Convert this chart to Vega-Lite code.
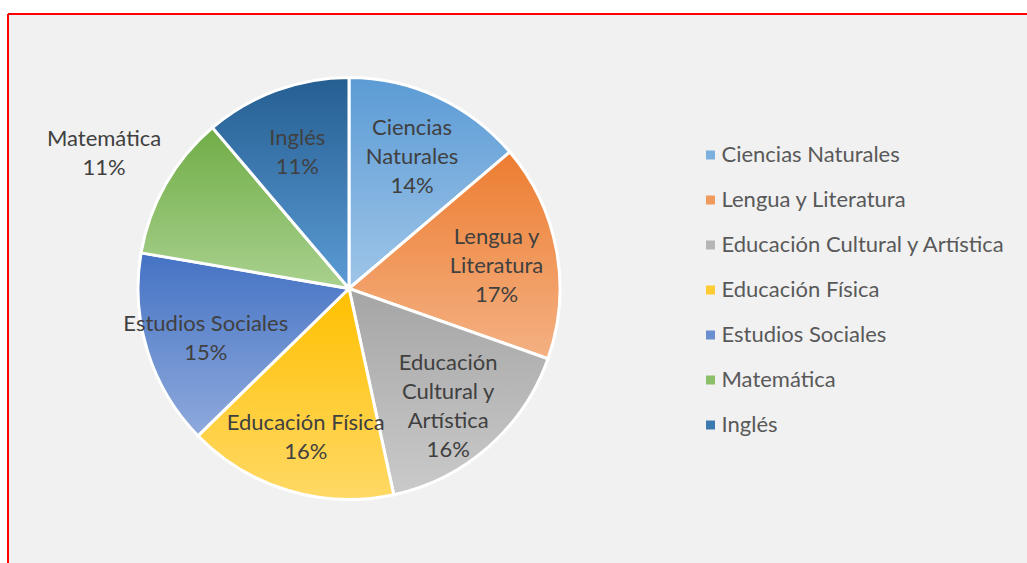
{
  "$schema": "https://vega.github.io/schema/vega-lite/v6.json",
  "background": "white",
  "padding": {"left": 7, "top": 13, "right": 0, "bottom": 0},
  "spacing": 0,
  "bounds": "flush",
  "config": {
    "font": "Lato",
    "concat": {"spacing": 0}
  },
  "datasets": {
    "materias": [
      {"orden": 1, "materia": "Ciencias Naturales", "valor": 0.138, "etiqueta": "Ciencias\nNaturales\n14%"},
      {"orden": 2, "materia": "Lengua y Literatura", "valor": 0.166, "etiqueta": "Lengua y\nLiteratura\n17%"},
      {"orden": 3, "materia": "Educación Cultural y Artística", "valor": 0.162, "etiqueta": "Educación\nCultural y\nArtística\n16%"},
      {"orden": 4, "materia": "Educación Física", "valor": 0.161, "etiqueta": "Educación Física\n16%"},
      {"orden": 5, "materia": "Estudios Sociales", "valor": 0.150, "etiqueta": "Estudios Sociales\n15%"},
      {"orden": 6, "materia": "Matemática", "valor": 0.111, "etiqueta": "Matemática\n11%"},
      {"orden": 7, "materia": "Inglés", "valor": 0.112, "etiqueta": "Inglés\n11%"}
    ]
  },
  "hconcat": [
    {
      "width": 682,
      "height": 549,
      "data": {"name": "materias"},
      "view": {"fill": "#f1f1f1", "stroke": "#ff0000", "strokeWidth": 2, "strokeDash": [682, 1231, 549, 0]},
      "encoding": {
        "theta": {"field": "valor", "type": "quantitative", "stack": true},
        "order": {"field": "orden", "type": "quantitative"}
      },
      "layer": [
        {
          "mark": {"type": "arc", "outerRadius": 211, "stroke": "white", "strokeWidth": 3},
          "encoding": {
            "color": {
              "condition": [
                {"test": "datum.materia === 'Ciencias Naturales'", "value": {"gradient": "linear", "x1": 0, "y1": 0, "x2": 0, "y2": 1, "stops": [{"offset": 0, "color": "#5B9BD5"}, {"offset": 1, "color": "#9FC5E8"}]}},
                {"test": "datum.materia === 'Lengua y Literatura'", "value": {"gradient": "linear", "x1": 0, "y1": 0, "x2": 0, "y2": 1, "stops": [{"offset": 0, "color": "#ED7D31"}, {"offset": 1, "color": "#F4B183"}]}},
                {"test": "datum.materia === 'Educación Cultural y Artística'", "value": {"gradient": "linear", "x1": 0, "y1": 0, "x2": 0, "y2": 1, "stops": [{"offset": 0, "color": "#A5A5A5"}, {"offset": 1, "color": "#CACACA"}]}},
                {"test": "datum.materia === 'Educación Física'", "value": {"gradient": "linear", "x1": 0, "y1": 0, "x2": 0, "y2": 1, "stops": [{"offset": 0, "color": "#FFC000"}, {"offset": 1, "color": "#FFD966"}]}},
                {"test": "datum.materia === 'Estudios Sociales'", "value": {"gradient": "linear", "x1": 0, "y1": 0, "x2": 0, "y2": 1, "stops": [{"offset": 0, "color": "#4472C4"}, {"offset": 1, "color": "#8FAADC"}]}},
                {"test": "datum.materia === 'Matemática'", "value": {"gradient": "linear", "x1": 0, "y1": 0, "x2": 0, "y2": 1, "stops": [{"offset": 0, "color": "#70AD47"}, {"offset": 1, "color": "#A9D18E"}]}}
              ],
              "value": {"gradient": "linear", "x1": 0, "y1": 0, "x2": 0, "y2": 1, "stops": [{"offset": 0, "color": "#255E91"}, {"offset": 1, "color": "#5B9BD5"}]}
            }
          }
        },
        {
          "mark": {
            "type": "text",
            "radius": {"expr": "datum.materia === 'Matemática' ? 282 : 150"},
            "dy": {"expr": "5 - (length(split(datum.etiqueta, '\\n')) - 1) * 14.5"},
            "fontSize": 22,
            "lineHeight": 29,
            "color": "#404040",
            "lineBreak": "\n",
            "align": "center",
            "baseline": "middle"
          },
          "encoding": {"text": {"field": "etiqueta", "type": "nominal"}}
        }
      ]
    },
    {
      "width": 337,
      "height": 549,
      "data": {"name": "materias"},
      "view": {"fill": "#f1f1f1", "stroke": "#ff0000", "strokeWidth": 2, "strokeDash": [337, 1772]},
      "mark": {"type": "square", "opacity": 0, "size": 1},
      "encoding": {
        "color": {
          "field": "materia",
          "type": "nominal",
          "scale": {
            "domain": ["Ciencias Naturales", "Lengua y Literatura", "Educación Cultural y Artística", "Educación Física", "Estudios Sociales", "Matemática", "Inglés"],
            "range": ["#7BAFDE", "#F09A5E", "#B5B5B5", "#FFCB33", "#6A8ED0", "#8CBF6A", "#3C79B1"]
          },
          "legend": {
            "orient": "none",
            "legendX": 691.5,
            "legendY": 130,
            "title": null,
            "symbolType": "square",
            "symbolSize": 81,
            "symbolOpacity": 1,
            "symbolStrokeWidth": 0,
            "labelFontSize": 22,
            "labelFont": "Lato",
            "labelColor": "#595959",
            "labelOffset": 0,
            "rowPadding": 23,
            "padding": 0,
            "labelLimit": 400
          }
        }
      }
    }
  ]
}
